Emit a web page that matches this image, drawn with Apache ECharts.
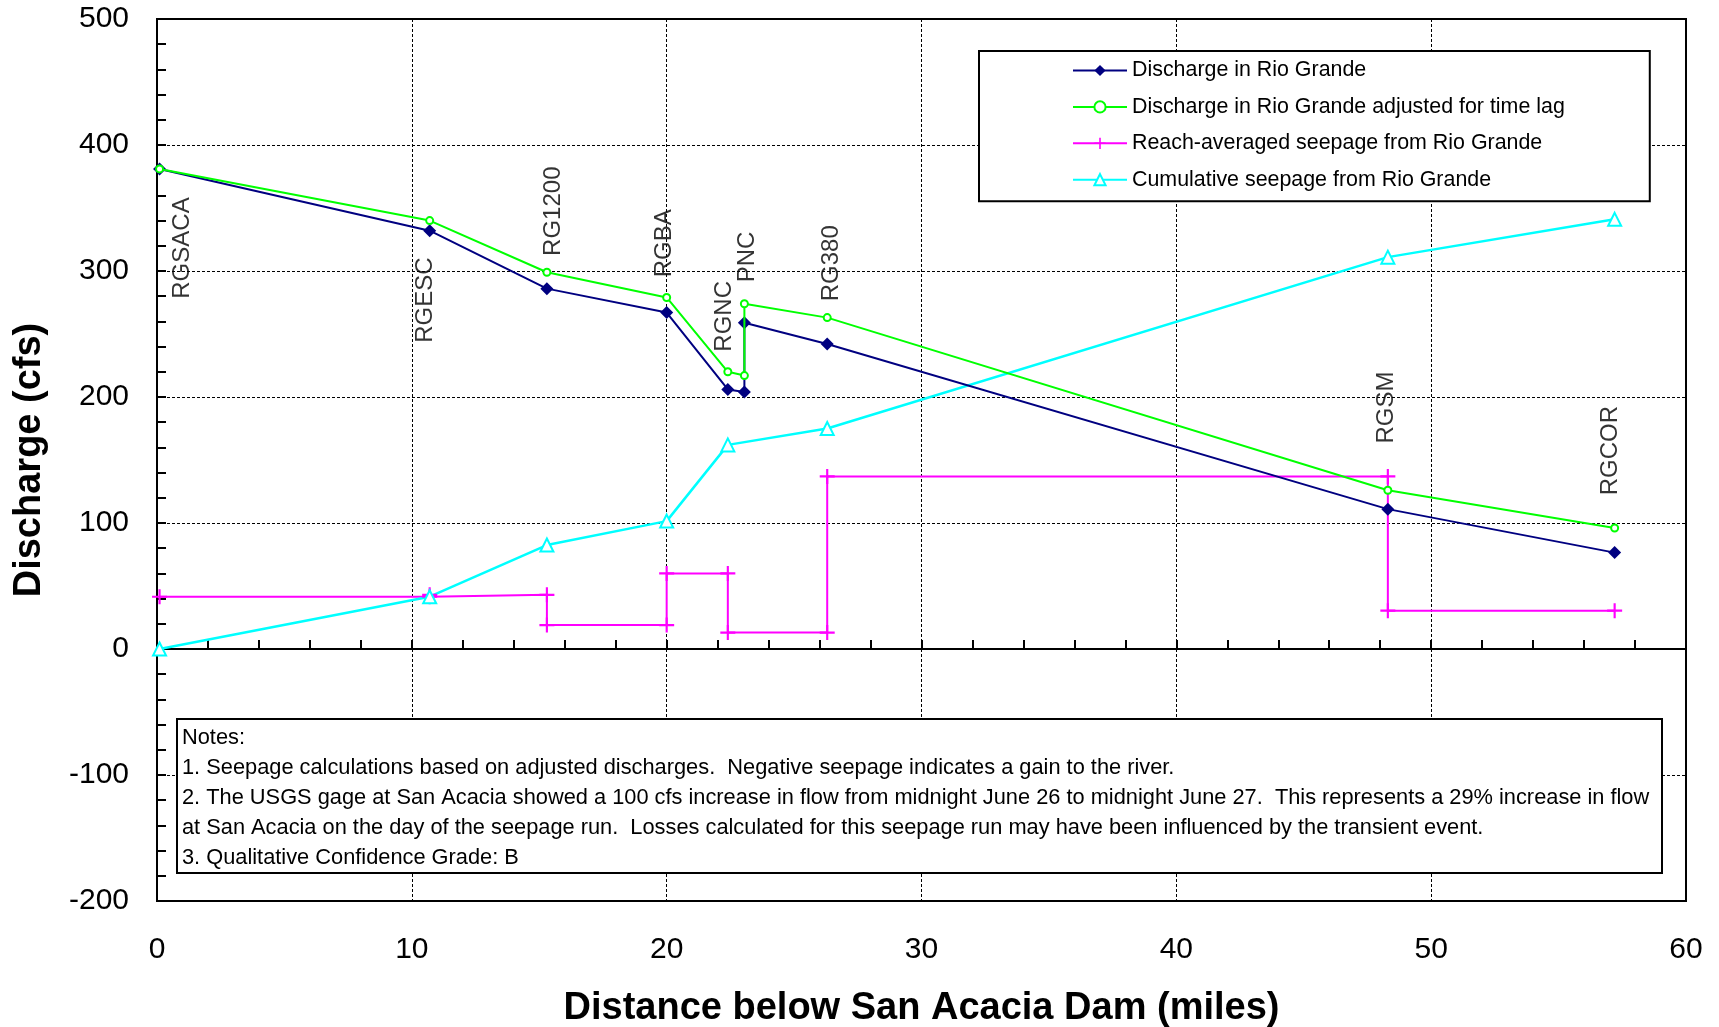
<!DOCTYPE html>
<html>
<head>
<meta charset="utf-8">
<title>Seepage run below San Acacia Dam</title>
<script src="https://cdn.jsdelivr.net/npm/echarts@6.0.0/dist/echarts.min.js"></script>
<style>
	html, body { margin: 0; padding: 0; background: #fff; }
	#seepage { width: 1719px; height: 1027px; }
</style>
</head>
<body>
<div id="seepage"></div>
<script>
// river miles below the dam for each discharge measurement (PNC has a before / after value)
var dischargeMiles = [0.1, 10.7, 15.3, 20.0, 22.4, 23.05, 23.05, 26.3, 48.3, 57.2];
var discharge = [381, 332, 286, 267, 206, 204, 259, 242, 111, 76.5];
var dischargeAdjusted = [381, 340, 299, 279, 220, 217, 274, 263, 126, 96];

// reach-averaged seepage, one value per reach between bounds
var reachBounds = [0.1, 10.7, 15.3, 20.0, 22.4, 26.3, 48.3, 57.2];
var reachSeepage = [41.5, 43, 19, 60, 13, 137, 30.4];

var cumulativeMiles = [0.1, 10.7, 15.3, 20.0, 22.4, 26.3, 48.3, 57.2];
var cumulativeSeepage = [0, 41.5, 82.5, 101.5, 162, 175, 311, 341];

var stationNames = ['RGSACA', 'RGESC', 'RG1200', 'RGBA', 'RGNC', 'PNC', 'RG380', 'RGSM', 'RGCOR'];
// where each station name sits (mile, cfs where the text begins)
var stationLabelAt = [[1.0, 278], [10.55, 243], [15.55, 312], [19.9, 295], [22.25, 236], [23.15, 291], [26.45, 276], [48.25, 163], [57.05, 122]];

var xTickLabels = [0, 10, 20, 30, 40, 50, 60];
var yTickLabels = [-200, -100, 0, 100, 200, 300, 400, 500];

var seriesNames = [
	'Discharge in Rio Grande',
	'Discharge in Rio Grande adjusted for time lag',
	'Reach-averaged seepage from Rio Grande',
	'Cumulative seepage from Rio Grande'
];

var noteLines = [
	'Notes:',
	'1. Seepage calculations based on adjusted discharges.  Negative seepage indicates a gain to the river.',
	'2. The USGS gage at San Acacia showed a 100 cfs increase in flow from midnight June 26 to midnight June 27.  This represents a 29% increase in flow',
	'at San Acacia on the day of the seepage run.  Losses calculated for this seepage run may have been influenced by the transient event.',
	'3. Qualitative Confidence Grade: B'
];

var FONT = '"Liberation Sans", Arial, sans-serif';

function pairs(xs, ys) {
	return xs.map(function (x, i) { return [x, ys[i]]; });
}

// step line for the reach averages
var stepData = [];
for (var i = 0; i < reachSeepage.length; i++) {
	stepData.push([reachBounds[i], reachSeepage[i]]);
	stepData.push([reachBounds[i + 1], reachSeepage[i]]);
}

var plusSymbol = 'path://M0,6h14v2H0z M6,0h2v14H6z';
var dashes = [3, 2];

var myChart = echarts.init(document.getElementById('seepage'));

var option = {
	animation: false,
	backgroundColor: '#fff',
	textStyle: { fontFamily: FONT, color: '#000' },
	grid: {
		left: 157,
		right: 33,
		top: 19,
		bottom: 126,
		show: true,
		borderColor: '#000',
		borderWidth: 2,
		containLabel: false,
		outerBoundsMode: 'none'
	},
	legend: {
		data: seriesNames,
		orient: 'vertical',
		left: 979,
		top: 51,
		padding: [9, 85, 11, 93],
		itemWidth: 54,
		itemHeight: 14,
		itemGap: 15.4,
		backgroundColor: '#fff',
		borderColor: '#000',
		borderWidth: 2,
		borderRadius: 0,
		textStyle: { fontSize: 21.4, color: '#000', fontFamily: FONT }
	},
	xAxis: [
		{
			type: 'value',
			min: xTickLabels[0],
			max: xTickLabels[xTickLabels.length - 1],
			interval: xTickLabels[1] - xTickLabels[0],
			name: 'Distance below San Acacia Dam (miles)',
			nameLocation: 'middle',
			nameGap: 89,
			nameTextStyle: { fontSize: 38, fontWeight: 'bold', color: '#000', fontFamily: FONT },
			axisLine: { onZero: false, lineStyle: { color: '#000', width: 2 } },
			axisTick: { show: false },
			axisLabel: { fontSize: 30, color: '#000', margin: 34, fontFamily: FONT },
			splitLine: { show: true, lineStyle: { color: '#000', width: 1, type: dashes } }
		},
		{
			// the zero line carries the mile ticks
			type: 'value',
			position: 'top',
			min: xTickLabels[0],
			max: xTickLabels[xTickLabels.length - 1],
			interval: 2,
			axisLine: { onZero: true, lineStyle: { color: '#000', width: 2 } },
			axisTick: { show: true, inside: false, length: 9, lineStyle: { color: '#000', width: 2 } },
			axisLabel: { show: false },
			splitLine: { show: false }
		}
	],
	yAxis: {
		type: 'value',
		min: yTickLabels[0],
		max: yTickLabels[yTickLabels.length - 1],
		interval: yTickLabels[1] - yTickLabels[0],
		name: 'Discharge (cfs)',
		nameLocation: 'middle',
		nameGap: 108,
		nameTextStyle: { fontSize: 38, fontWeight: 'bold', color: '#000', fontFamily: FONT },
		axisLine: { show: true, onZero: false, lineStyle: { color: '#000', width: 2 } },
		axisTick: { show: true, inside: true, length: 9, lineStyle: { color: '#000', width: 2 } },
		minorTick: { show: true, splitNumber: 5, length: 9, lineStyle: { color: '#000', width: 2 } },
		axisLabel: { fontSize: 30, color: '#000', margin: 28, fontFamily: FONT },
		splitLine: { show: true, lineStyle: { color: '#000', width: 1, type: dashes } }
	},
	series: [
		{
			name: seriesNames[0],
			type: 'line',
			data: pairs(dischargeMiles, discharge),
			symbol: 'diamond',
			symbolSize: 13,
			lineStyle: { color: '#000080', width: 2 },
			itemStyle: { color: '#000080' },
			z: 3
		},
		{
			name: seriesNames[1],
			type: 'line',
			data: pairs(dischargeMiles, dischargeAdjusted),
			symbol: 'emptyCircle',
			symbolSize: 7,
			lineStyle: { color: '#00ff00', width: 2 },
			itemStyle: { color: '#00ff00', borderWidth: 1.5 },
			z: 4
		},
		{
			name: seriesNames[2],
			type: 'line',
			data: stepData,
			symbol: plusSymbol,
			symbolSize: 15,
			lineStyle: { color: '#ff00ff', width: 2 },
			itemStyle: { color: '#ff00ff' },
			z: 2
		},
		{
			name: seriesNames[3],
			type: 'line',
			data: pairs(cumulativeMiles, cumulativeSeepage),
			symbol: 'emptyTriangle',
			symbolSize: 13,
			lineStyle: { color: '#00ffff', width: 2.5 },
			itemStyle: { color: '#00ffff', borderWidth: 2 },
			z: 2
		},
		{
			name: 'stations',
			type: 'scatter',
			silent: true,
			symbolSize: 1,
			itemStyle: { color: 'rgba(0,0,0,0)' },
			data: stationLabelAt.map(function (p, i) {
				return { name: stationNames[i], value: p };
			}),
			label: {
				show: true,
				position: 'inside',
				formatter: '{b}',
				rotate: 90,
				align: 'left',
				verticalAlign: 'middle',
				color: '#000',
				fontSize: 24,
				fontFamily: FONT
			},
			z: 5
		}
	],
	graphic: {
		elements: [
			{
				type: 'rect',
				left: 176,
				top: 718,
				z: 100,
				shape: { x: 0, y: 0, width: 1485, height: 154 },
				style: { fill: '#fff', stroke: '#000', lineWidth: 2 }
			},
			{
				type: 'text',
				left: 182,
				top: 723,
				z: 101,
				style: {
					text: noteLines.join('\n'),
					fontSize: 21.8,
					fontFamily: FONT,
					lineHeight: 30,
					fill: '#000'
				}
			}
		]
	}
};

myChart.setOption(option);

window.addEventListener('resize', function () {
	myChart.resize();
});
</script>
</body>
</html>
